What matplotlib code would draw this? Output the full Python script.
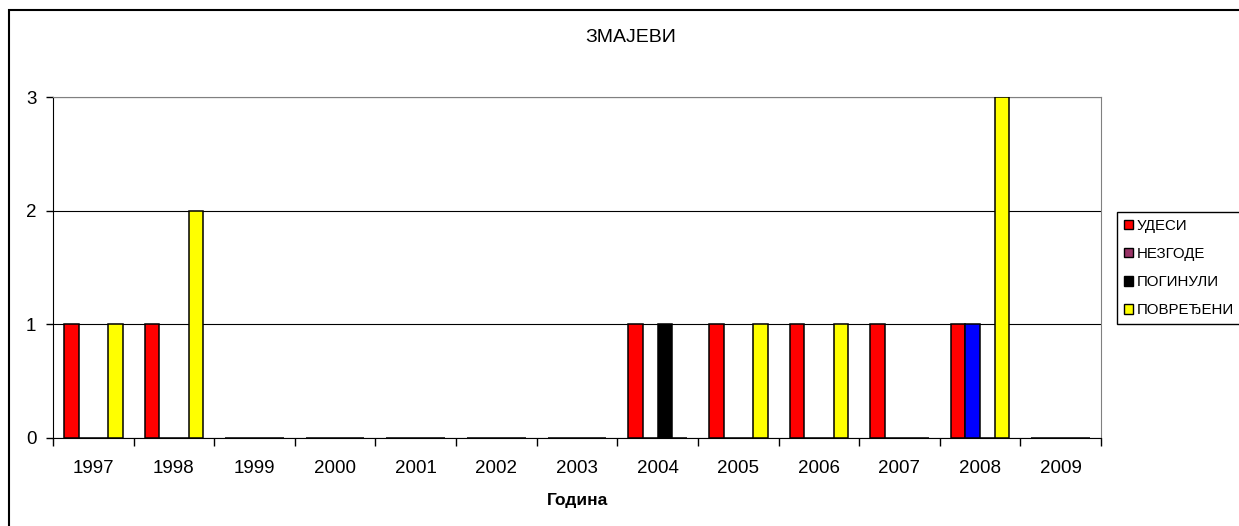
import numpy as np
import matplotlib.pyplot as plt
from matplotlib.patches import Rectangle, Patch

plt.rcParams['font.family'] = ['Liberation Sans', 'DejaVu Sans']

years = ['1997', '1998', '1999', '2000', '2001', '2002', '2003',
         '2004', '2005', '2006', '2007', '2008', '2009']
series_names = ['УДЕСИ', 'НЕЗГОДЕ', 'ПОГИНУЛИ', 'ПОВРЕЂЕНИ']
udesi     = [1, 1, 0, 0, 0, 0, 0, 1, 1, 1, 1, 1, 0]
nezgode   = [0, 0, 0, 0, 0, 0, 0, 0, 0, 0, 0, 1, 0]
poginuli  = [0, 0, 0, 0, 0, 0, 0, 1, 0, 0, 0, 0, 0]
povredjeni = [1, 2, 0, 0, 0, 0, 0, 0, 1, 1, 0, 3, 0]
colors = ['#ff0000', '#993366', '#000000', '#ffff00']

W, H = 1239, 526
fig = plt.figure(figsize=(W / 100, H / 100), dpi=100)
ax = fig.add_axes([53 / W, 88 / H, (1101 - 53) / W, (438 - 97) / H])

x = np.arange(len(years))
w = 1 / 5.5
data = [udesi, nezgode, poginuli, povredjeni]
for k, vals in enumerate(data):
    cols = [colors[k]] * len(years)
    if k == 1:
        cols[11] = '#0000ff'  # 2008 bar is coloured separately
    ax.bar(x + (k - 1.5) * w, vals, width=w, color=cols,
           edgecolor='black', linewidth=1.1, zorder=3)

ax.set_xlim(-0.5, len(years) - 0.5)
ax.set_ylim(0, 3)
ax.set_yticks([0, 1, 2, 3])
ax.grid(axis='y', color='black', linewidth=0.8, zorder=0)
ax.tick_params(axis='y', direction='out', length=5, width=1, pad=7, labelsize=13.5)

# ticks between categories, labels in the middle
ax.set_xticks(np.arange(-0.5, len(years), 1))
ax.set_xticklabels([])
ax.set_xticks(x, minor=True)
ax.set_xticklabels(years, minor=True)
ax.tick_params(axis='x', which='major', direction='out', length=6, width=1)
ax.tick_params(axis='x', which='minor', length=0, pad=16, labelsize=13.5)

for side in ['top', 'right']:
    ax.spines[side].set_color('#808080')
for side in ['left', 'bottom']:
    ax.spines[side].set_color('black')

fig.text(631 / W, 1 - 38 / H, 'ЗМАЈЕВИ', ha='center', va='center', fontsize=14)
fig.text(577 / W, 1 - 500 / H, 'Година', ha='center', va='center',
         fontsize=12.5, fontweight='bold')

handles = [Patch(facecolor=c, edgecolor='black', linewidth=1) for c in colors]
fig.legend(handles, series_names, loc='upper left',
           bbox_to_anchor=(1117 / W, 1 - 212 / H), fontsize=10.8,
           frameon=True, fancybox=False, edgecolor='black', framealpha=1,
           handlelength=0.6, handleheight=0.6, handletextpad=0.25,
           labelspacing=0.95, borderpad=0.45, borderaxespad=0)

fig.patches.append(Rectangle((9 / W, -0.1), 1.2, 1.1 - 10 / H,
                             transform=fig.transFigure, fill=False,
                             edgecolor='black', linewidth=1.5))

fig.savefig('out.png', dpi=100)
